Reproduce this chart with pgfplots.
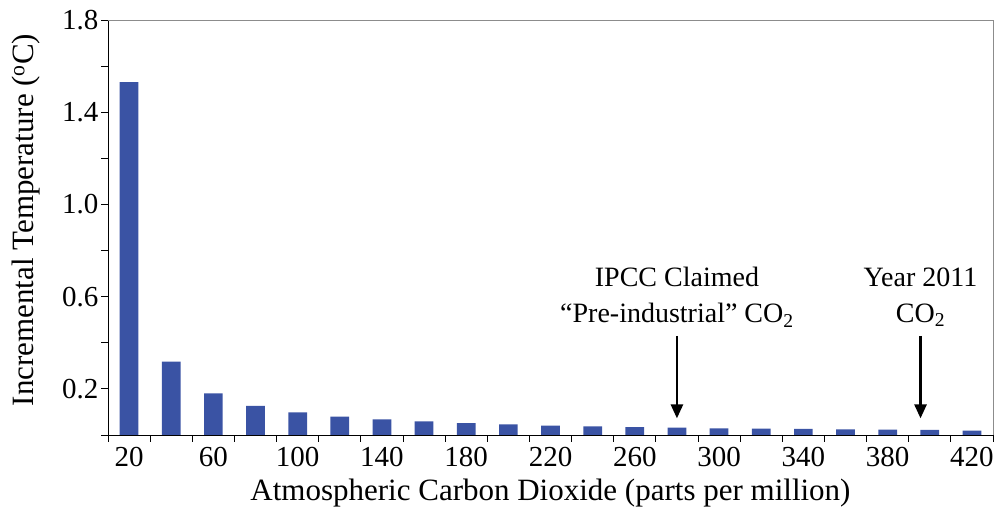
\documentclass[border=0pt]{standalone}
\usepackage{fontspec}
\setmainfont{Liberation Serif}
\usepackage{pgfplots}
\pgfplotsset{compat=1.18}
\usetikzlibrary{arrows.meta}

\definecolor{barblue}{RGB}{58,83,164}
\definecolor{framegray}{RGB}{140,140,140}

% incremental warming for each 20 ppm step (index 0 = 20 ppm, ..., 20 = 420 ppm)
\pgfplotstableread{
idx  dt
0    1.530
1    0.318
2    0.181
3    0.126
4    0.098
5    0.080
6    0.068
7    0.059
8    0.052
9    0.046
10   0.041
11   0.037
12   0.034
13   0.032
14   0.029
15   0.028
16   0.027
17   0.024
18   0.023
19   0.022
20   0.019
}\dtdata

\begin{document}
\begin{tikzpicture}
\begin{axis}[
  scale only axis,
  width=885pt, height=415pt,
  at={(0,0)}, anchor=south west,
  xmin=-0.5, xmax=20.5,
  ymin=0, ymax=1.8,
  axis lines=left,
  axis line style={-, line width=0.8pt, black},
  xtick={0,2,...,20},
  xticklabels={20,60,100,140,180,220,260,300,340,380,420},
  minor xtick={-0.5,0.5,...,20.5},
  major x tick style={draw=none},
  minor x tick style={line width=0.8pt, black},
  ytick={0,0.2,...,1.8},
  yticklabels={{},0.2,{},0.6,{},1.0,{},1.4,{},1.8},
  y tick style={line width=0.8pt, black},
  tick align=outside,
  major tick length=7pt,
  minor tick length=7pt,
  /pgf/number format/assume math mode=true,
  tick label style={font=\fontsize{29}{34}\selectfont},
  xticklabel style={yshift=-2pt},
  yticklabel style={xshift=1pt},
  xlabel={Atmospheric Carbon Dioxide (parts per million)},
  ylabel={Incremental Temperature (\textsuperscript{o}C)},
  every axis x label/.style={at={(axis description cs:0.5,0)}, anchor=center,
    yshift=-58pt, font=\fontsize{31}{37}\selectfont},
  every axis y label/.style={at={([xshift=-82pt]axis description cs:0,0.518)}, rotate=90,
    anchor=center, font=\fontsize{31}{37}\selectfont},
  clip=false,
]
\addplot[ybar, bar width=0.444, fill=barblue, draw=none] table[x=idx, y=dt] {\dtdata};

\draw[framegray, line width=0.8pt] (rel axis cs:0,1) -- (rel axis cs:1,1) -- (rel axis cs:1,0);

\draw[line width=2.6pt, -{Triangle[length=14pt, width=12pt]}] (axis cs:13,0.43) -- (axis cs:13,0.072);
\draw[line width=2.6pt, -{Triangle[length=14pt, width=12pt]}] (axis cs:18.78,0.43) -- (axis cs:18.78,0.072);

\node[align=center, font=\fontsize{28}{36}\selectfont] at (axis cs:13,0.598)
  {IPCC Claimed\\“Pre-industrial” CO\textsubscript{2}};
\node[align=center, font=\fontsize{28}{36}\selectfont] at (axis cs:18.78,0.598)
  {Year 2011\\CO\textsubscript{2}};
\end{axis}
\pgfresetboundingbox
\path[use as bounding box] (-108pt,-83pt) rectangle (887pt,435pt);
\end{tikzpicture}
\end{document}
